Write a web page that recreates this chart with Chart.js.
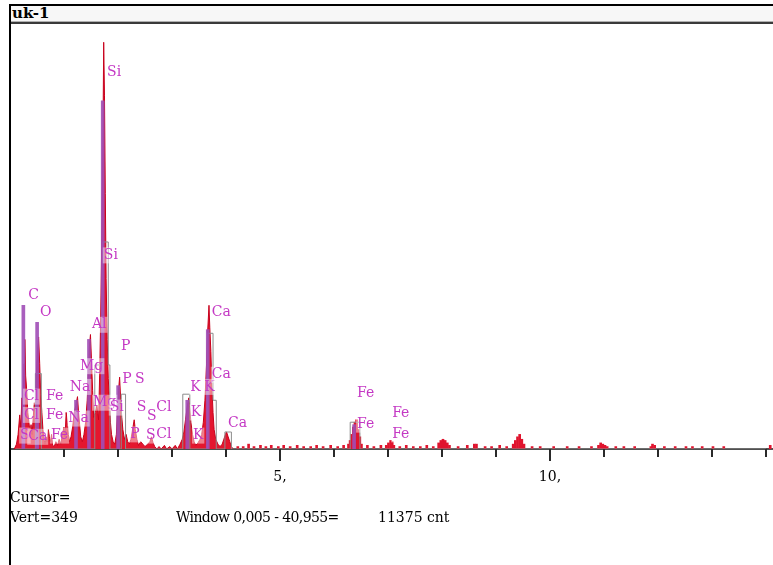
<!DOCTYPE html>
<html>
<head>
<meta charset="utf-8">
<title>uk-1</title>
<script src="https://cdn.jsdelivr.net/npm/chart.js@4.4.1/dist/chart.umd.min.js"></script>
<style>
body { margin:0; background:#fff; }
#wrap { position:relative; width:773px; height:565px; overflow:hidden; background:#fff; font-family:"DejaVu Serif", serif; }
#spektrum { position:absolute; left:0; top:0; }
.ram-top { position:absolute; left:9px; top:4px; width:764px; height:2px; background:#000; }
.ram-left { position:absolute; left:9px; top:4px; width:2px; height:561px; background:#000; }
.titul { position:absolute; left:11px; top:6px; width:762px; height:15px; background:#f7f7f7; border-bottom:1px solid #b0b0b0; }
.titul-linka { position:absolute; left:11px; top:22px; width:762px; height:2px; background:#3a3a3a; }
.txt { position:absolute; font-size:14px; line-height:16px; color:#000; white-space:pre; }
</style>
</head>
<body>
<div id="wrap">
  <canvas id="spektrum" width="773" height="565"></canvas>
  <div class="titul"></div>
  <div class="titul-linka"></div>
  <div class="ram-top"></div>
  <div class="ram-left"></div>
  <div class="txt" style="left:12px;top:5px;font-size:15px;font-weight:600;">uk-1</div>
  <div class="txt" style="left:10px;top:489px;">Cursor=</div>
  <div class="txt" style="left:10px;top:509px;">Vert=349</div>
  <div class="txt" style="left:176px;top:509px;letter-spacing:-0.6px;">Window 0,005 - 40,955=</div>
  <div class="txt" style="left:378px;top:509px;">11375 cnt</div>
</div>
<script>
// spektrum 0 - 4.13 keV (plna plocha)
const redKeV = [0.08,0.12,0.15,0.18,0.20,0.22,0.24,0.26,0.275,0.29,0.31,0.33,0.35,0.37,0.39,0.41,0.43,0.45,0.47,0.49,
  0.51,0.53,0.55,0.57,0.59,0.61,0.63,0.65,0.67,0.69,0.71,0.73,0.75,0.77,0.79,0.82,0.85,0.88,0.91,0.94,0.97,
  1.00,1.02,1.04,1.06,1.08,1.10,1.13,1.16,1.19,1.22,1.25,1.27,1.29,1.31,1.34,1.37,1.40,1.43,1.45,1.47,
  1.49,1.51,1.53,1.55,1.58,1.61,1.64,1.66,1.68,1.70,1.72,1.735,1.75,1.765,1.78,1.80,1.82,1.84,1.86,1.88,
  1.91,1.94,1.97,1.99,2.01,2.03,2.05,2.07,2.09,2.12,2.15,2.18,2.21,2.24,2.27,2.30,2.32,2.35,2.38,2.42,
  2.46,2.50,2.55,2.59,2.62,2.65,2.68,2.72,
  2.76,2.80,2.86,2.90,2.96,3.00,3.06,3.10,3.15,3.19,3.22,3.25,3.28,3.31,3.33,3.35,3.38,3.41,3.44,3.48,
  3.52,3.55,3.58,3.61,3.64,3.66,3.685,3.70,3.72,3.74,3.76,3.78,3.81,3.85,3.89,3.93,3.96,3.99,4.01,4.04,
  4.07,4.10,4.13];
const redCounts = [0,4,12,28,18,42,30,70,90,60,48,30,22,14,20,12,26,38,30,64,
  82,92,70,45,30,16,8,4,10,6,16,10,6,12,3,2,6,3,8,4,12,
  18,10,30,22,12,6,10,18,30,36,43,30,20,10,6,12,22,40,62,84,
  94,72,48,26,30,36,24,60,110,175,250,334,290,210,140,90,58,40,22,12,
  6,4,12,30,48,59,40,26,16,8,12,6,4,8,16,24,16,8,3,6,
  4,2,4,6,10,5,2,0,
  2,0,3,0,2,0,3,0,4,8,14,24,34,42,32,22,12,6,3,5,
  8,12,22,40,70,96,118,100,80,50,30,16,8,4,2,4,8,12,14,10,
  6,2,0];

// nad 4.1 keV - jednotlive kanaly
const tailKeV = [4.20,4.30,4.40,4.50,4.62,4.72,4.82,4.95,5.05,5.17,5.30,5.42,5.55,5.66,5.78,5.92,6.05,6.16,
  6.25,6.28,6.31,6.34,6.37,6.40,6.43,6.46,6.49,6.60,6.72,6.85,6.95,6.99,7.03,7.06,7.09,7.20,7.32,7.45,
  7.58,7.70,7.82,7.92,7.96,8.00,8.04,8.08,8.12,8.28,8.45,8.58,8.62,8.78,8.90,9.05,9.18,9.30,9.34,9.38,
  9.42,9.46,9.50,9.65,9.80,10.05,10.30,10.52,10.75,10.88,10.92,10.96,11.00,11.04,11.20,11.35,11.55,
  11.85,11.88,11.92,12.10,12.30,12.50,12.62,12.80,13.00,13.20,14.06];
const tailCounts = [2,2,4,2,3,2,3,2,3,2,3,2,2,3,2,3,2,3,
  4,7,12,18,22,24,16,10,4,3,2,3,3,5,7,6,3,2,3,2,
  2,3,2,5,7,8,7,5,3,2,3,4,4,2,2,3,2,4,7,10,
  12,8,4,2,2,2,2,2,2,3,5,4,3,2,2,2,2,
  2,4,3,2,2,2,2,2,2,2,3];

// druhe spektrum (fialove)
const purpleKeV = [0.275, 0.53, 1.25, 1.49, 1.745, 2.03, 3.31, 3.69, 6.40];
const purpleCounts = [118, 104, 40, 90, 286, 52, 40, 98, 20];

// sive obrysy
const greyKeV = [0.10, 0.47, 0.58, 1.57, 1.72, 1.82, 1.85, 2.06, 2.14, 3.20, 3.33, 3.66, 3.76, 3.82, 3.98, 4.10, 6.30, 6.48, 14.0];
const greyCounts = [0, 62, 0, 69, 170, 69, 0, 45, 0, 45, 0, 95, 40, 0, 14, 0, 22, 0, 0];

// znacky prvkov
const markerKeV = [1.76,1.70,0.30,0.52,1.48,2.02,1.26,1.07,2.04,2.28,
  0.22,0.63,0.22,0.63,1.04,0.15,0.30,0.72,1.50,1.81,
  2.31,2.50,2.67,2.19,2.48,2.67,3.30,3.56,3.70,3.70,
  3.31,3.35,4.00,6.39,6.39,7.04,7.04];
const markerCounts = [309,159,126,112,102,84,68,51,57,57,
  43,43,28,28,25,11,10,11,38,34,
  34,27,34,12,11,12,51,51,112,61,
  30,11,21,46,20,29,12];
const markerText = ['Si','Si','C','O','Al','P','Mg','Na','P','S',
  'Cl','Fe','Cl','Fe','Na','S','Ca','Fe','Mg','Si',
  'S','S','Cl','P','S','Cl','K','K','Ca','Ca',
  'K','K','Ca','Fe','Fe','Fe','Fe'];

const tickLabels = {5: '5,', 10: '10,'};
const vert = 349;
const maxKeV = 14.13;

function body(xs, ys) {
  return xs.map((x, i) => ({x: x, y: ys[i]}));
}

const ticky = {
  id: 'ticky',
  afterDraw(chart) {
    let ctx = chart.ctx;
    let sx = chart.scales.x;
    let y0 = chart.chartArea.bottom;
    ctx.save();
    ctx.strokeStyle = '#2a2a2a';
    ctx.lineWidth = 2;
    for (let v = 1; v <= 14; v++) {
      let px = Math.round(sx.getPixelForValue(v));
      let len = v % 5 === 0 ? 12 : 8;
      ctx.beginPath();
      ctx.moveTo(px, y0);
      ctx.lineTo(px, y0 + len);
      ctx.stroke();
    }
    ctx.restore();
  }
};

const znacky = {
  id: 'znacky',
  afterDatasetsDraw(chart) {
    let ctx = chart.ctx;
    let sx = chart.scales.x;
    let sy = chart.scales.y;
    ctx.save();
    ctx.font = '14px "DejaVu Serif"';
    ctx.textBaseline = 'middle';
    markerText.forEach((t, i) => {
      let px = sx.getPixelForValue(markerKeV[i]) + 2;
      let py = sy.getPixelForValue(markerCounts[i]);
      let w = ctx.measureText(t).width;
      ctx.fillStyle = 'rgba(255,255,255,0.45)';
      ctx.fillRect(px - 1, py - 8, w + 2, 16);
      ctx.fillStyle = '#c438c4';
      ctx.fillText(t, px, py);
    });
    ctx.restore();
  }
};

const ctx = document.getElementById('spektrum').getContext('2d');
const graf = new Chart(ctx, {
  type: 'line',
  data: {
    datasets: [{
      type: 'bar',
      label: 'fialove',
      data: body(purpleKeV, purpleCounts),
      backgroundColor: 'rgba(160, 78, 182, 0.9)',
      barThickness: 3,
      order: 1
    }, {
      type: 'line',
      label: 'obrys',
      data: body(greyKeV, greyCounts),
      borderColor: '#8c8c8c',
      borderWidth: 1,
      stepped: true,
      fill: false,
      pointRadius: 0,
      order: 2
    }, {
      type: 'bar',
      label: 'kanaly',
      data: body(tailKeV, tailCounts),
      backgroundColor: '#e0142e',
      barThickness: 2,
      order: 3
    }, {
      type: 'line',
      label: 'spektrum',
      data: body(redKeV, redCounts),
      borderColor: '#c8001c',
      backgroundColor: '#e4162e',
      borderWidth: 1,
      fill: 'origin',
      tension: 0,
      pointRadius: 0,
      order: 4
    }]
  },
  options: {
    responsive: false,
    devicePixelRatio: 1,
    animation: false,
    layout: { autoPadding: false, padding: { left: 10, top: 24, right: 0, bottom: 76 } },
    plugins: { legend: { display: false }, tooltip: { enabled: false }, title: { display: false } },
    scales: {
      x: {
        type: 'linear',
        min: 0,
        max: maxKeV,
        offset: false,
        afterFit: s => { s.height = 40; s.paddingLeft = 0; s.paddingRight = 0; },
        grid: { display: false, drawTicks: false, offset: false },
        border: { display: true, color: '#505050', width: 2 },
        ticks: {
          stepSize: 1,
          autoSkip: false,
          maxRotation: 0,
          padding: 20,
          color: '#000',
          font: { family: 'DejaVu Serif', size: 14 },
          callback: v => tickLabels[v] || ''
        }
      },
      y: {
        type: 'linear',
        min: 0,
        max: vert,
        display: false
      }
    }
  },
  plugins: [ticky, znacky]
});
</script>
</body>
</html>
